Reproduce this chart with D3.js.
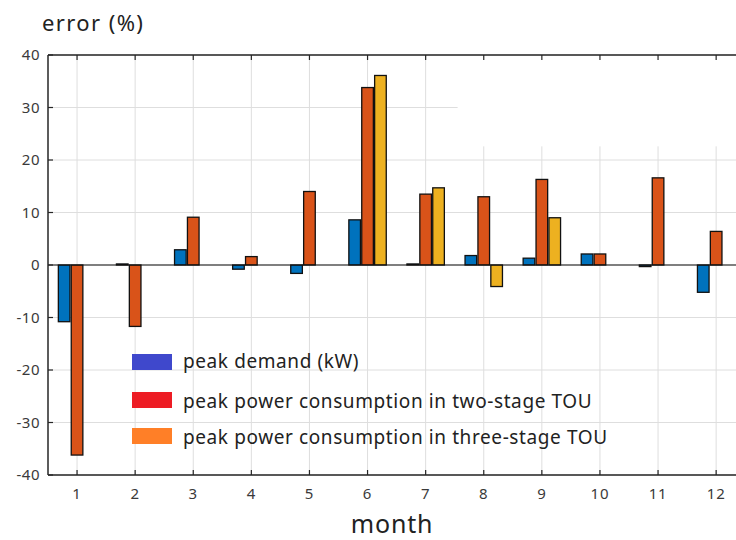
<!DOCTYPE html>
<html>
<head>
<meta charset="utf-8">
<script src="https://cdn.jsdelivr.net/npm/d3@7"></script>
<style>
  body { margin: 0; background: #fff; }
  svg { display: block; }
</style>
</head>
<body>
<div class="chart"></div>
<script>
// monthly error (%) of three measures
var months = [1, 2, 3, 4, 5, 6, 7, 8, 9, 10, 11, 12];
var series = ["peak demand (kW)",
              "peak power consumption in two-stage TOU",
              "peak power consumption in three-stage TOU"];
var data_demand = [-10.8, 0.2, 2.9, -0.8, -1.6, 8.6, 0.2, 1.8, 1.3, 2.1, -0.3, -5.2];
var data_two = [-36.2, -11.7, 9.1, 1.6, 14.0, 33.8, 13.5, 13.0, 16.3, 2.1, 16.6, 6.4];
var data_three = [0, 0, 0, 0, 0, 36.1, 14.7, -4.1, 9.0, 0, 0, 0];
var yTicks = [-40, -30, -20, -10, 0, 10, 20, 30, 40];

var barColor = ["#0072bd", "#d95319", "#edb120"];
var legendColor = ["#3f48cc", "#ed1c24", "#ff7f27"];

var W = 736, H = 540;
var plotLeft = 48, plotTop = 55, plotBottom = 475;

var svg = d3.select(".chart")
            .append("svg")
            .attr("width", W)
            .attr("height", H);

var x = d3.scaleLinear().domain([0.5, 12.5]).range([plotLeft, plotLeft + 58.1 * 12]);
var y = d3.scaleLinear().domain([-40, 40]).range([plotBottom, plotTop]);

// grid
svg.append("g").selectAll("line")
    .data(yTicks)
    .join("line")
    .attr("x1", plotLeft).attr("x2", W)
    .attr("y1", d => y(d)).attr("y2", d => y(d))
    .style("stroke", "#dedede")
    .style("stroke-width", 1);

svg.append("g").selectAll("line")
    .data(months)
    .join("line")
    .attr("x1", d => x(d)).attr("x2", d => x(d))
    .attr("y1", plotTop).attr("y2", plotBottom)
    .style("stroke", "#dedede")
    .style("stroke-width", 1);

// white patch that hides part of the grid (top right)
svg.append("rect")
    .attr("x", x(7.55))
    .attr("y", y(39.8))
    .attr("width", x(12.84) - x(7.55))
    .attr("height", y(22.6) - y(39.8))
    .attr("fill", "#fff");

// bars
var all = [data_demand, data_two, data_three];
var step = 0.222;
var bw = 0.2;
all.forEach(function(vals, s) {
    svg.append("g").selectAll("rect")
        .data(vals.map((v, i) => ({ m: months[i], v: v })).filter(d => d.v !== 0))
        .join("rect")
        .attr("x", d => x(d.m + (s - 1) * step - bw / 2))
        .attr("width", x(bw) - x(0))
        .attr("y", d => y(Math.max(0, d.v)))
        .attr("height", d => Math.abs(y(d.v) - y(0)))
        .attr("fill", barColor[s])
        .style("stroke", "#111")
        .style("stroke-width", 1.3);
});

// zero baseline
svg.append("line")
    .attr("x1", plotLeft).attr("x2", W)
    .attr("y1", y(0)).attr("y2", y(0))
    .style("stroke", "#111")
    .style("stroke-width", 1.2);

// axes box
svg.append("line")
    .attr("x1", plotLeft).attr("x2", W)
    .attr("y1", plotTop).attr("y2", plotTop)
    .style("stroke", "#262626").style("stroke-width", 1.5);
svg.append("line")
    .attr("x1", plotLeft).attr("x2", W)
    .attr("y1", plotBottom).attr("y2", plotBottom)
    .style("stroke", "#262626").style("stroke-width", 1.5);
svg.append("line")
    .attr("x1", plotLeft).attr("x2", plotLeft)
    .attr("y1", plotTop).attr("y2", plotBottom)
    .style("stroke", "#262626").style("stroke-width", 1.5);

// ticks
months.forEach(function(m) {
    svg.append("line")
        .attr("x1", x(m)).attr("x2", x(m))
        .attr("y1", plotTop).attr("y2", plotTop + 5)
        .style("stroke", "#262626").style("stroke-width", 1.2);
    svg.append("line")
        .attr("x1", x(m)).attr("x2", x(m))
        .attr("y1", plotBottom).attr("y2", plotBottom - 5)
        .style("stroke", "#262626").style("stroke-width", 1.2);
    svg.append("text")
        .attr("x", x(m))
        .attr("y", plotBottom + 24)
        .attr("text-anchor", "middle")
        .text(m)
        .style("font-size", "15px")
        .style("letter-spacing", "0.8px")
        .attr("font-family", "Noto Sans")
        .attr("fill", "#3a3a3a");
});

yTicks.forEach(function(t) {
    svg.append("line")
        .attr("x1", plotLeft).attr("x2", plotLeft + 5)
        .attr("y1", y(t)).attr("y2", y(t))
        .style("stroke", "#262626").style("stroke-width", 1.2);
    svg.append("text")
        .attr("x", 40)
        .attr("y", y(t) + 5)
        .attr("text-anchor", "end")
        .text(t)
        .style("font-size", "15px")
        .style("letter-spacing", "0.5px")
        .attr("font-family", "Noto Sans")
        .attr("fill", "#3a3a3a");
});

// axis titles
svg.append("text")
    .attr("x", 42)
    .attr("y", 31)
    .text("error (%)")
    .style("font-size", "22px")
    .style("letter-spacing", "1.4px")
    .attr("font-family", "Noto Sans")
    .attr("fill", "#222");

svg.append("text")
    .attr("x", 392)
    .attr("y", 533)
    .attr("text-anchor", "middle")
    .text("month")
    .style("font-size", "25px")
    .style("letter-spacing", "0.8px")
    .attr("font-family", "Noto Sans")
    .attr("fill", "#222");

// legend
var legY = [354, 392, 428];
var textY = [368, 408, 444];
for (var i = 0; i < 3; i++) {
    svg.append("rect")
        .attr("x", 132)
        .attr("y", legY[i])
        .attr("width", 40)
        .attr("height", 16)
        .attr("fill", legendColor[i]);

    svg.append("text")
        .attr("x", 183)
        .attr("y", textY[i])
        .text(series[i])
        .style("font-size", "19px")
        .style("letter-spacing", "0.6px")
        .attr("font-family", "Noto Sans")
        .attr("fill", "#222");
}
</script>
</body>
</html>
